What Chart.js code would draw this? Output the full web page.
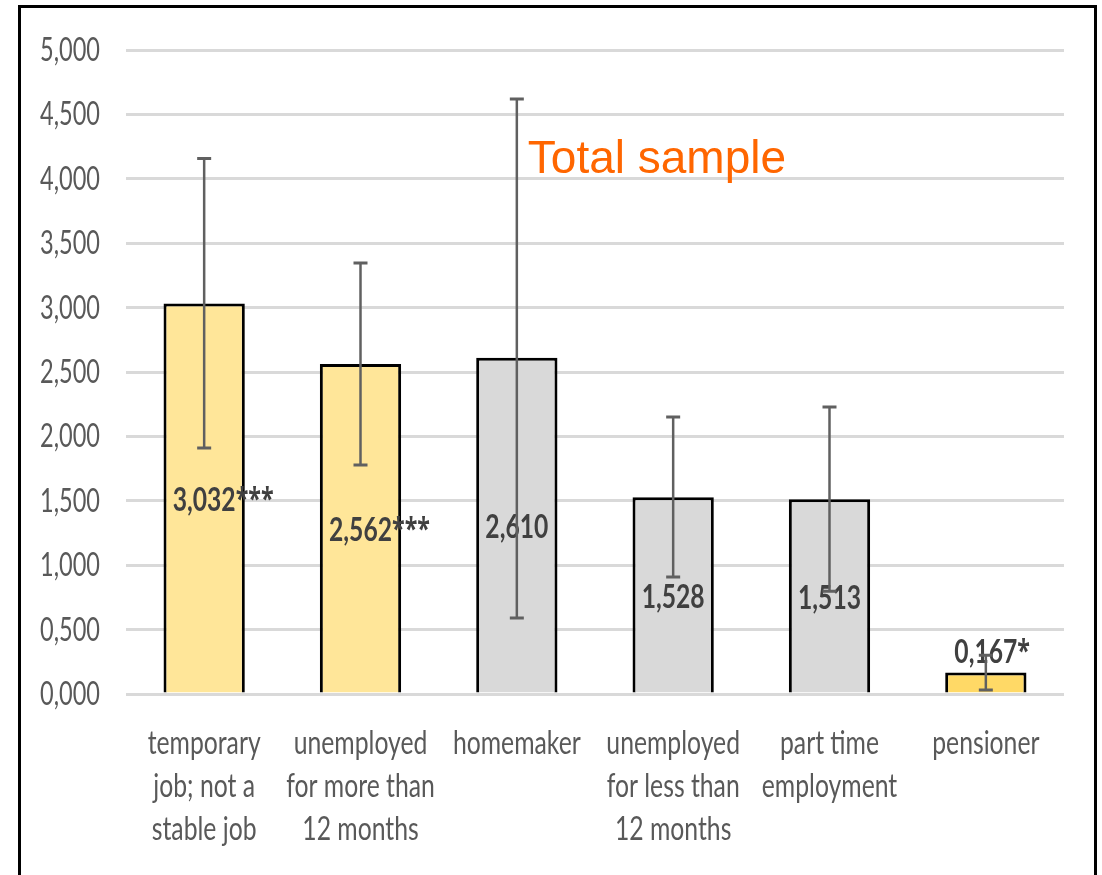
<!DOCTYPE html>
<html>
<head>
<meta charset="utf-8">
<script src="https://cdn.jsdelivr.net/npm/chart.js@4.4.1/dist/chart.umd.min.js"></script>
<style>
  html, body { margin: 0; padding: 0; background: #ffffff; overflow: hidden; }
  #wrap { position: relative; width: 1102px; height: 875px; }
  #frame { position: absolute; left: 18px; top: 5px; width: 1079px; height: 920px;
           border: 3px solid #000; box-sizing: border-box; pointer-events: none; }
</style>
</head>
<body>
<div id="wrap">
  <canvas id="c" width="1102" height="875"></canvas>
  <div id="frame"></div>
</div>
<script>
// ---- data ----
const categories = [
  ["temporary", "job; not a", "stable job"],
  ["unemployed", "for more than", "12 months"],
  ["homemaker"],
  ["unemployed", "for less than", "12 months"],
  ["part time", "employment"],
  ["pensioner"]
];
const means     = [3.032, 2.562, 2.610, 1.528, 1.513, 0.167];
const errPlus   = [1.125, 0.784, 2.010, 0.622, 0.715, 0.133];
const errMinus  = [1.122, 0.784, 2.020, 0.620, 0.715, 0.135];
const stars     = ["***", "***", "", "", "", "*"];
const barColors = ["#FFE699", "#FFE699", "#D9D9D9", "#D9D9D9", "#D9D9D9", "#FFD966"];
const yTicks    = [0, 0.5, 1, 1.5, 2, 2.5, 3, 3.5, 4, 4.5, 5];
const annotationText = "Total sample";

// ---- helpers ----
const fmt = v => v.toFixed(3).replace('.', ',');
const TICK_FONT = '32px Lato';
const LABEL_FONT = '700 32px Lato';
const STAR_FONT = '700 30px "Open Sans"';
let tickSX = 0.7, labelSX = 0.7, starSX = 0.9;

function drawStretched(ctx, txt, x, y, font, color, align, sx) {
  ctx.save();
  ctx.font = font;
  ctx.fillStyle = color;
  ctx.textAlign = align;
  ctx.textBaseline = 'alphabetic';
  ctx.translate(x, y);
  ctx.scale(sx, 1);
  ctx.fillText(txt, 0, 0);
  ctx.restore();
}

const customDraw = {
  id: 'customDraw',
  beforeDraw(chart) {
    const ctx = chart.ctx;
    ctx.save();
    ctx.font = TICK_FONT;
    tickSX = 60 / ctx.measureText('5,000').width;
    ctx.font = LABEL_FONT;
    labelSX = 63 / ctx.measureText('3,032').width;
    ctx.font = STAR_FONT;
    starSX = 38 / ctx.measureText('***').width;
    ctx.restore();
  },
  afterDatasetsDraw(chart) {
    const ctx = chart.ctx;
    const y = chart.scales.y;
    const meta = chart.getDatasetMeta(0);

    // data labels
    means.forEach((v, i) => {
      const bar = meta.data[i];
      const cx = bar.x;
      const top = y.getPixelForValue(v), base = y.getPixelForValue(0);
      let baseline;
      if (base - top > 40) baseline = (top + base) / 2 + 12;
      else baseline = top - 9;
      const num = fmt(v);
      ctx.save();
      ctx.font = LABEL_FONT;
      const w = ctx.measureText(num).width * labelSX;
      ctx.restore();
      drawStretched(ctx, num, cx, baseline, LABEL_FONT, '#404040', 'center', labelSX);
      if (stars[i]) drawStretched(ctx, stars[i], cx + w / 2, baseline - 2, STAR_FONT, '#404040', 'left', starSX);
    });

    // error bars
    ctx.save();
    ctx.strokeStyle = '#606060';
    ctx.lineCap = 'butt';
    means.forEach((v, i) => {
      const cx = meta.data[i].x;
      const yHi = y.getPixelForValue(v + errPlus[i]);
      const yLo = y.getPixelForValue(v - errMinus[i]);
      ctx.lineWidth = 2.5;
      ctx.beginPath();
      ctx.moveTo(cx, yHi); ctx.lineTo(cx, yLo);
      ctx.stroke();
      ctx.lineWidth = 3;
      ctx.beginPath();
      ctx.moveTo(cx - 7, yHi); ctx.lineTo(cx + 7, yHi);
      ctx.moveTo(cx - 7, yLo); ctx.lineTo(cx + 7, yLo);
      ctx.stroke();
    });
    ctx.restore();
  },
  afterDraw(chart) {
    const ctx = chart.ctx;
    const x = chart.scales.x, y = chart.scales.y;
    // y tick labels
    y.ticks.forEach(t => {
      const py = y.getPixelForValue(t.value);
      drawStretched(ctx, fmt(t.value), chart.chartArea.left - 26, py + 11, TICK_FONT, '#595959', 'right', tickSX);
    });
    // category labels
    const base = y.getPixelForValue(0);
    chart.data.labels.forEach((lines, i) => {
      const cx = x.getPixelForValue(i);
      lines.forEach((ln, k) => {
        drawStretched(ctx, ln, cx, base + 60 + k * 43, TICK_FONT, '#595959', 'center', tickSX * 1.05);
      });
    });
    // annotation
    ctx.save();
    ctx.font = '46px "Liberation Sans", Arial, sans-serif';
    ctx.fillStyle = '#FF6600';
    ctx.textAlign = 'left';
    ctx.textBaseline = 'alphabetic';
    ctx.fillText(annotationText, x.getPixelForValue(2) + 11, y.getPixelForValue(4.0) - 6);
    ctx.restore();
  }
};

new Chart(document.getElementById('c'), {
  type: 'bar',
  data: {
    labels: categories,
    datasets: [{
      data: means,
      backgroundColor: barColors,
      borderColor: '#000000',
      borderWidth: 3,
      borderSkipped: 'bottom',
      barPercentage: 0.52,
      categoryPercentage: 1.0
    }]
  },
  options: {
    responsive: false,
    animation: false,
    devicePixelRatio: 1,
    layout: { padding: { left: 126, right: 38, top: 50, bottom: 181 } },
    plugins: { legend: { display: false }, tooltip: { enabled: false }, title: { display: false } },
    scales: {
      x: {
        grid: { display: false },
        border: { display: false },
        ticks: { display: false },
        afterFit(s) { s.height = 0; }
      },
      y: {
        min: 0, max: 5,
        afterBuildTicks(s) { s.ticks = yTicks.map(v => ({ value: v })); },
        grid: { color: '#D9D9D9', lineWidth: 3, drawTicks: false },
        border: { display: false },
        ticks: { display: false },
        afterFit(s) { s.width = 0; }
      }
    }
  },
  plugins: [customDraw]
});
</script>
</body>
</html>
